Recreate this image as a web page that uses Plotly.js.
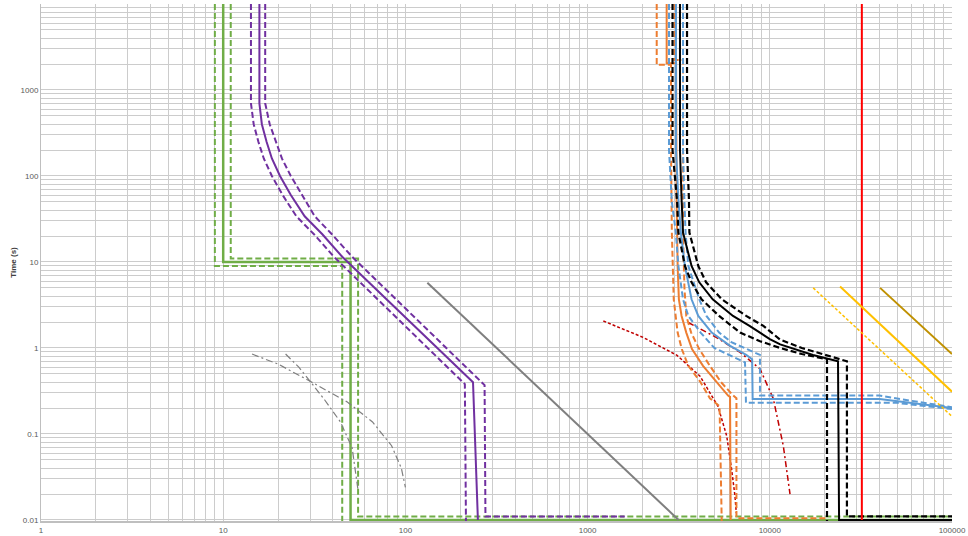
<!DOCTYPE html>
<html>
<head>
<meta charset="utf-8">
<script src="https://cdn.plot.ly/plotly-3.0.1.min.js"></script>
<style>html,body{margin:0;padding:0;background:#fff}#chart{width:968px;height:536px}</style>
</head>
<body>
<div id="chart"></div>
<script>
// ---- axis ticks ----
const xDecades = [1, 10, 100, 1000, 10000, 100000];
const xDecadeLabels = ['1', '10', '100', '1000', '10000', '100000'];
const yDecades = [0.01, 0.1, 1, 10, 100, 1000, 10000];
const yDecadeLabels = ['0.01', '0.1', '1', '10', '100', '1000', '10000'];
const gridDigits = [1, 2, 3, 4, 5, 6, 7, 8, 9];

// ---- green (definite time) ----
const greenX = [10, 10, 50, 50, 100000];
const greenT = [10000, 10, 10, 0.01, 0.01];
const greenLoX = [9, 9, 45, 45];
const greenLoT = [10000, 9, 9, 0.009];
const greenHiX = [11, 11, 55, 55, 100000];
const greenHiT = [10000, 11, 11, 0.011, 0.011];

// ---- purple ----
const purpleX = [15.8, 15.8, 16.3, 17.3, 18.5, 20.5, 23.5, 28, 35, 45, 235, 250];
const purpleT = [10000, 700, 400, 250, 160, 100, 60, 34, 21, 11.5, 0.4, 0.01];
const purpleLoX = [14.2, 14.2, 14.7, 15.6, 16.7, 18.5, 21.2, 25.2, 31.5, 40.5, 212, 215];
const purpleLoT = [10000, 700, 400, 250, 160, 100, 60, 34, 21, 11.5, 0.38, 0.009];
const purpleHiX = [17, 17, 18, 19.5, 21, 23.5, 27, 31.8, 39.5, 51, 272, 275, 1600];
const purpleHiT = [10000, 700, 400, 250, 160, 100, 60, 34, 21, 11.5, 0.37, 0.011, 0.011];

// ---- grey ----
const greyX = [132, 3160];
const greyT = [5.74, 0.01];
const greyAX = [14.4, 20, 30, 48, 66, 84, 95, 100];
const greyAT = [0.85, 0.65, 0.41, 0.235, 0.138, 0.073, 0.04, 0.024];
const greyBX = [22, 26, 30, 36, 44, 51, 55];
const greyBT = [0.85, 0.6, 0.41, 0.25, 0.138, 0.069, 0.022];

// ---- orange ----
const orangeX = [2716, 2716, 3060, 3060, 3080, 3100, 3120, 3170, 3280, 3480, 3740, 4300, 5110, 5900, 6050, 6100];
const orangeT = [10000, 2050, 2050, 200, 50, 22, 9, 3.68, 2.36, 1.51, 0.97, 0.62, 0.40, 0.28, 0.27, 0.01];
const orangeLoX = [2395, 2395, 2870, 2870, 2900, 2930, 2970, 3120, 3290, 3570, 4170, 4690, 5300, 5450];
const orangeLoT = [10000, 1960, 1960, 200, 22, 9, 3.68, 1.51, 0.97, 0.62, 0.40, 0.26, 0.21, 0.009];
const orangeHiX = [3000, 3000, 3340, 3340, 3400, 3480, 3700, 4100, 4690, 5400, 6300, 6560, 6560, 20600];
const orangeHiT = [10000, 2240, 2240, 22, 5, 2.36, 1.51, 0.97, 0.62, 0.40, 0.28, 0.26, 0.0105, 0.0105];

// ---- blue ----
const blueX = [3055, 3055, 3150, 3250, 3420, 3570, 3720, 4050, 4800, 6060, 7420, 8000, 8050, 40000, 60000, 100000];
const blueT = [10000, 200, 53, 22, 9, 5.8, 3.68, 2.36, 1.51, 1.06, 0.83, 0.74, 0.255, 0.255, 0.23, 0.2];
const blueLoX = [2797, 2797, 2900, 3050, 3150, 3340, 3570, 4170, 4960, 5790, 7310, 7400, 50000, 100000];
const blueLoT = [10000, 200, 50, 22, 9, 3.68, 2.36, 1.51, 1.0, 0.86, 0.68, 0.23, 0.23, 0.195];
const blueHiX = [3340, 3340, 3400, 3450, 3570, 4100, 4490, 5270, 6150, 7960, 8830, 8830, 40000, 55000, 100000];
const blueHiT = [10000, 200, 50, 22, 9, 3.68, 2.36, 1.51, 1.17, 0.92, 0.83, 0.28, 0.28, 0.25, 0.205];

// ---- black ----
const blackX = [3214, 3214, 3280, 3340, 3720, 4100, 4860, 6280, 7740, 10000, 11400, 17260, 23680, 24000, 100000];
const blackT = [10000, 200, 53, 22, 9, 5.8, 3.68, 2.36, 1.81, 1.27, 1.1, 0.83, 0.7, 0.01, 0.01];
const blackLoX = [2925, 2925, 3100, 3150, 3420, 3720, 4220, 5270, 6870, 8840, 11400, 15000, 20600, 20600];
const blackLoT = [10000, 200, 50, 22, 9, 5.8, 3.68, 2.36, 1.51, 1.2, 1.0, 0.85, 0.74, 0.009];
const blackHiX = [3513, 3513, 3600, 3620, 4050, 4470, 5450, 7420, 9220, 11400, 15000, 20000, 26500, 26500, 100000];
const blackHiT = [10000, 200, 53, 22, 9, 5.8, 3.68, 2.36, 1.81, 1.25, 1.0, 0.83, 0.7, 0.011, 0.011];

// ---- reds ----
const redDashX = [1220, 2015, 3097, 4140, 5195, 5800, 6170, 6440, 6550];
const redDashT = [2.06, 1.33, 0.82, 0.47, 0.21, 0.095, 0.039, 0.019, 0.012];
const redDashDotX = [3570, 5110, 6870, 8840, 10450, 11860, 12910];
const redDashDotT = [1.98, 1.32, 0.89, 0.57, 0.258, 0.073, 0.020];
const redX = [32000, 32000];
const redT = [10000, 0.01];

// ---- yellow / gold ----
const yellowDotX = [17300, 100000];
const yellowDotT = [5.0, 0.16];
const yellowX = [24300, 100000];
const yellowT = [5.2, 0.31];
const goldX = [40300, 100000];
const goldT = [5.0, 0.85];

// log grid ticks: every digit of every decade, labels only on decades
function logTicks(decades, labels) {
  const vals = [], text = [];
  decades.forEach((d, i) => {
    if (i === decades.length - 1) { vals.push(d); text.push(labels[i]); return; }
    gridDigits.forEach(k => { vals.push(d * k); text.push(k === 1 ? labels[i] : ''); });
  });
  return {vals, text};
}
const xt = logTicks(xDecades, xDecadeLabels);
const yt = logTicks(yDecades, yDecadeLabels);

function tr(x, y, color, width, dash) {
  return {x: x, y: y, type: 'scatter', mode: 'lines', hoverinfo: 'skip',
          line: {color: color, width: width, dash: dash || 'solid'}};
}

const GREEN = '#70ad47', PURPLE = '#7030a0', ORANGE = '#ed7d31', BLUE = '#5b9bd5';
const GREY = '#7f7f7f', DRED = '#c00000';
const DASH = '6px,3px', BDASH = '6px,3px', SDASH = '3px,2px';

const traces = [
  tr(greenLoX, greenLoT, GREEN, 2, DASH),
  tr(greenHiX, greenHiT, GREEN, 2, DASH),
  tr(greenX, greenT, GREEN, 2.5),
  tr(greyAX, greyAT, GREY, 1.2, '7px,3px,2px,3px'),
  tr(greyBX, greyBT, GREY, 1.2, '7px,3px,2px,3px'),
  tr(greyX, greyT, GREY, 2),
  tr(purpleLoX, purpleLoT, PURPLE, 2, DASH),
  tr(purpleHiX, purpleHiT, PURPLE, 2, DASH),
  tr(purpleX, purpleT, PURPLE, 2),
  tr(redDashX, redDashT, DRED, 1.5, SDASH),
  tr(redDashDotX, redDashDotT, DRED, 1.5, '6px,3px,2px,3px'),
  tr(orangeLoX, orangeLoT, ORANGE, 2, DASH),
  tr(orangeHiX, orangeHiT, ORANGE, 2, DASH),
  tr(orangeX, orangeT, ORANGE, 2),
  tr(blueLoX, blueLoT, BLUE, 2, DASH),
  tr(blueHiX, blueHiT, BLUE, 2, DASH),
  tr(blueX, blueT, BLUE, 2),
  tr(blackLoX, blackLoT, '#000000', 2.2, BDASH),
  tr(blackHiX, blackHiT, '#000000', 2.2, BDASH),
  tr(blackX, blackT, '#000000', 2),
  tr(redX, redT, '#ff0000', 2),
  tr(yellowDotX, yellowDotT, '#ffc000', 1.5, SDASH),
  tr(yellowX, yellowT, '#ffc000', 2),
  tr(goldX, goldT, '#bf9000', 2)
];

const axisFont = {family: 'Liberation Sans, Arial, sans-serif', size: 8, color: '#595959'};

const layout = {
  width: 968, height: 536,
  margin: {l: 41, r: 16, t: 4, b: 15, pad: 0},
  paper_bgcolor: '#ffffff', plot_bgcolor: '#ffffff',
  showlegend: false,
  xaxis: {
    type: 'log', range: [0, 5], tickmode: 'array', tickvals: xt.vals, ticktext: xt.text,
    tickfont: axisFont, ticks: '', showgrid: true, gridcolor: '#cccccc', gridwidth: 1,
    showline: true, linecolor: '#bfbfbf', linewidth: 2, zeroline: false, automargin: false,
    layer: 'below traces'
  },
  yaxis: {
    type: 'log', range: [-2.012, 4], tickmode: 'array', tickvals: yt.vals, ticktext: yt.text,
    tickfont: axisFont, ticks: '', showgrid: true, gridcolor: '#cccccc', gridwidth: 1,
    showline: true, linecolor: '#bfbfbf', linewidth: 1, zeroline: false, automargin: false,
    layer: 'below traces',
    title: {text: '<b>Time (s)</b>', font: {family: 'Liberation Sans, Arial, sans-serif', size: 8, color: '#404040'}, standoff: 2}
  }
};

Plotly.newPlot('chart', traces, layout, {staticPlot: true, displayModeBar: false});
</script>
</body>
</html>
